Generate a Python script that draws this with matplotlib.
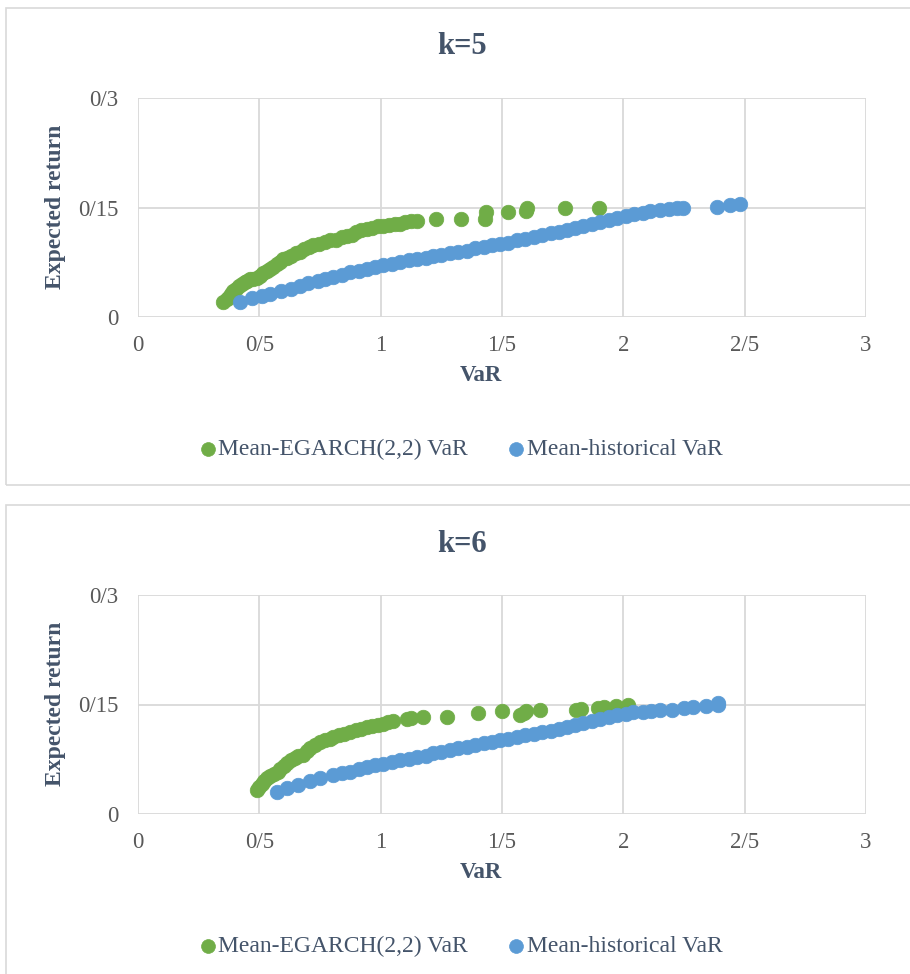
import matplotlib
matplotlib.use("Agg")
import matplotlib.pyplot as plt
from matplotlib.patches import Rectangle

plt.rcParams['font.family'] = ['Liberation Serif', 'DejaVu Serif']

# k=5 panel
egarch_k5_var = [0.352, 0.365, 0.375, 0.385, 0.393, 0.405, 0.418, 0.430, 0.440, 0.448,
                 0.460, 0.475, 0.490, 0.503, 0.515, 0.530, 0.544, 0.558, 0.572, 0.585,
                 0.599, 0.615, 0.632, 0.650, 0.667, 0.685, 0.705, 0.722, 0.745, 0.770,
                 0.790, 0.815, 0.840, 0.860, 0.880, 0.900, 0.920, 0.942, 0.965, 0.990,
                 1.011, 1.035, 1.060, 1.079, 1.100, 1.125, 1.148, 1.230, 1.333, 1.430,
                 1.436, 1.526, 1.600, 1.602, 1.759, 1.900]
egarch_k5_ret = [0.021, 0.025, 0.028, 0.032, 0.036, 0.038, 0.042, 0.045, 0.048, 0.050,
                 0.052, 0.052, 0.054, 0.056, 0.060, 0.063, 0.066, 0.069, 0.073, 0.076,
                 0.079, 0.081, 0.084, 0.087, 0.089, 0.093, 0.096, 0.098, 0.100, 0.103,
                 0.105, 0.106, 0.109, 0.111, 0.113, 0.116, 0.119, 0.121, 0.122, 0.124,
                 0.125, 0.126, 0.127, 0.128, 0.130, 0.131, 0.132, 0.1345, 0.1345, 0.1345,
                 0.1436, 0.1445, 0.145, 0.150, 0.1496, 0.150]
hist_k5_var = [0.420, 0.470, 0.510, 0.545, 0.590, 0.630, 0.667, 0.700, 0.740, 0.770,
               0.805, 0.840, 0.875, 0.910, 0.942, 0.975, 1.010, 1.045, 1.079, 1.115,
               1.150, 1.185, 1.217, 1.250, 1.285, 1.320, 1.354, 1.390, 1.425, 1.460,
               1.490, 1.525, 1.560, 1.595, 1.630, 1.665, 1.700, 1.735, 1.766, 1.800,
               1.835, 1.870, 1.904, 1.940, 1.975, 2.010, 2.045, 2.080, 2.110, 2.150,
               2.190, 2.220, 2.247, 2.384, 2.440, 2.480]
hist_k5_ret = [0.021, 0.026, 0.029, 0.031, 0.035, 0.039, 0.043, 0.046, 0.049, 0.052,
               0.055, 0.058, 0.061, 0.063, 0.066, 0.069, 0.071, 0.073, 0.0755, 0.078,
               0.080, 0.081, 0.083, 0.085, 0.087, 0.089, 0.091, 0.094, 0.096, 0.098,
               0.100, 0.102, 0.105, 0.107, 0.109, 0.112, 0.115, 0.117, 0.119, 0.122,
               0.124, 0.127, 0.130, 0.133, 0.135, 0.138, 0.141, 0.143, 0.145, 0.147,
               0.148, 0.149, 0.150, 0.1505, 0.1535, 0.155]

# k=6 panel
egarch_k6_var = [0.489, 0.500, 0.510, 0.520, 0.530, 0.545, 0.560, 0.575, 0.585, 0.600,
                 0.615, 0.630, 0.645, 0.660, 0.680, 0.695, 0.710, 0.730, 0.750, 0.770,
                 0.790, 0.805, 0.830, 0.850, 0.874, 0.900, 0.920, 0.942, 0.965, 0.990,
                 1.011, 1.030, 1.052, 1.110, 1.125, 1.176, 1.272, 1.402, 1.499, 1.574,
                 1.590, 1.600, 1.656, 1.807, 1.825, 1.897, 1.920, 1.970, 2.020]
egarch_k6_ret = [0.033, 0.037, 0.041, 0.045, 0.049, 0.052, 0.055, 0.058, 0.062, 0.066,
                 0.070, 0.074, 0.077, 0.079, 0.081, 0.086, 0.090, 0.094, 0.098, 0.101,
                 0.103, 0.105, 0.108, 0.110, 0.112, 0.115, 0.117, 0.119, 0.120, 0.122,
                 0.1236, 0.126, 0.128, 0.130, 0.132, 0.133, 0.133, 0.1386, 0.141, 0.136,
                 0.138, 0.141, 0.1427, 0.142, 0.144, 0.145, 0.146, 0.148, 0.150]
hist_k6_var = [0.571, 0.613, 0.660, 0.708, 0.750, 0.805, 0.840, 0.875, 0.910, 0.942,
               0.975, 1.010, 1.045, 1.079, 1.115, 1.150, 1.185, 1.217, 1.250, 1.285,
               1.320, 1.354, 1.390, 1.425, 1.460, 1.490, 1.525, 1.560, 1.595, 1.630,
               1.665, 1.700, 1.735, 1.766, 1.800, 1.835, 1.870, 1.904, 1.940, 1.975,
               2.010, 2.040, 2.080, 2.115, 2.150, 2.200, 2.250, 2.288, 2.340, 2.390,
               2.392]
hist_k6_ret = [0.030, 0.036, 0.040, 0.045, 0.049, 0.053, 0.056, 0.058, 0.061, 0.064,
               0.067, 0.069, 0.071, 0.0735, 0.076, 0.078, 0.080, 0.083, 0.085, 0.087,
               0.090, 0.092, 0.094, 0.097, 0.099, 0.101, 0.103, 0.105, 0.108, 0.110,
               0.112, 0.114, 0.117, 0.119, 0.122, 0.124, 0.127, 0.1305, 0.133, 0.135,
               0.137, 0.1395, 0.140, 0.141, 0.142, 0.143, 0.145, 0.147, 0.148, 0.149,
               0.152]

titles = ["k=5", "k=6"]
series_names = ["Mean-EGARCH(2,2) VaR", "Mean-historical VaR"]
x_ticks = [0, 0.5, 1, 1.5, 2, 2.5, 3]
x_ticklabels = ["0", "0/5", "1", "1/5", "2", "2/5", "3"]
y_ticks = [0, 0.15, 0.3]
y_ticklabels = ["0", "0/15", "0/3"]

GREEN = "#70ad47"
BLUE = "#5b9bd5"
TXT = "#44546a"
TICK = "#595959"
GRID = "#d9d9d9"

W, H = 910, 974
fig = plt.figure(figsize=(W / 100, H / 100), dpi=100)


def fx(px):
    return px / W


def fy(py):
    return 1 - py / H


def panel(off, title, gx, gy, bx, by):
    # outer chart box
    fig.patches.append(Rectangle((fx(6), fy(485 + off)), fx(910), (477) / H,
                                 transform=fig.transFigure, fill=False,
                                 edgecolor=GRID, lw=1.2))
    ax = fig.add_axes([fx(138), fy(317 + off), fx(866 - 138), (317 - 98) / H])
    ax.scatter(gx, gy, s=110, color=GREEN, edgecolors=GREEN, linewidths=0.5, zorder=3,
               label=series_names[0])
    ax.scatter(bx, by, s=110, color=BLUE, edgecolors=BLUE, linewidths=0.5, zorder=3,
               label=series_names[1])
    ax.set_xlim(0, 3)
    ax.set_ylim(0, 0.3)
    ax.set_xticks(x_ticks)
    ax.set_xticklabels(x_ticklabels)
    ax.set_yticks(y_ticks)
    ax.set_yticklabels(y_ticklabels)
    ax.grid(True, color=GRID, lw=1.3)
    ax.set_axisbelow(True)
    for s in ax.spines.values():
        s.set_visible(False)
    ax.tick_params(length=0, labelsize=16.5, labelcolor=TICK)
    ax.tick_params(axis='x', pad=13)
    ax.tick_params(axis='y', pad=14)
    fig.text(fx(462), fy(47 + off), title, ha='center', va='center',
             fontsize=22, fontweight='bold', color=TXT)
    fig.text(fx(481), fy(375 + off), "VaR", ha='center', va='center',
             fontsize=16.5, fontweight='bold', color=TXT)
    fig.text(fx(55), fy(207 + off), "Expected return", ha='center', va='center',
             rotation=90, fontsize=17, fontweight='bold', color=TXT)
    h, l = ax.get_legend_handles_labels()
    fig.legend(h, l, loc='center', bbox_to_anchor=(fx(461), fy(449 + off)), ncol=2,
               frameon=False, fontsize=17, labelcolor=TXT, handletextpad=0.1,
               handlelength=0.7, columnspacing=1.7, markerscale=0.95, borderaxespad=0)


panel(0, titles[0], egarch_k5_var, egarch_k5_ret, hist_k5_var, hist_k5_ret)
panel(497, titles[1], egarch_k6_var, egarch_k6_ret, hist_k6_var, hist_k6_ret)

fig.savefig("out.png", dpi=100)
